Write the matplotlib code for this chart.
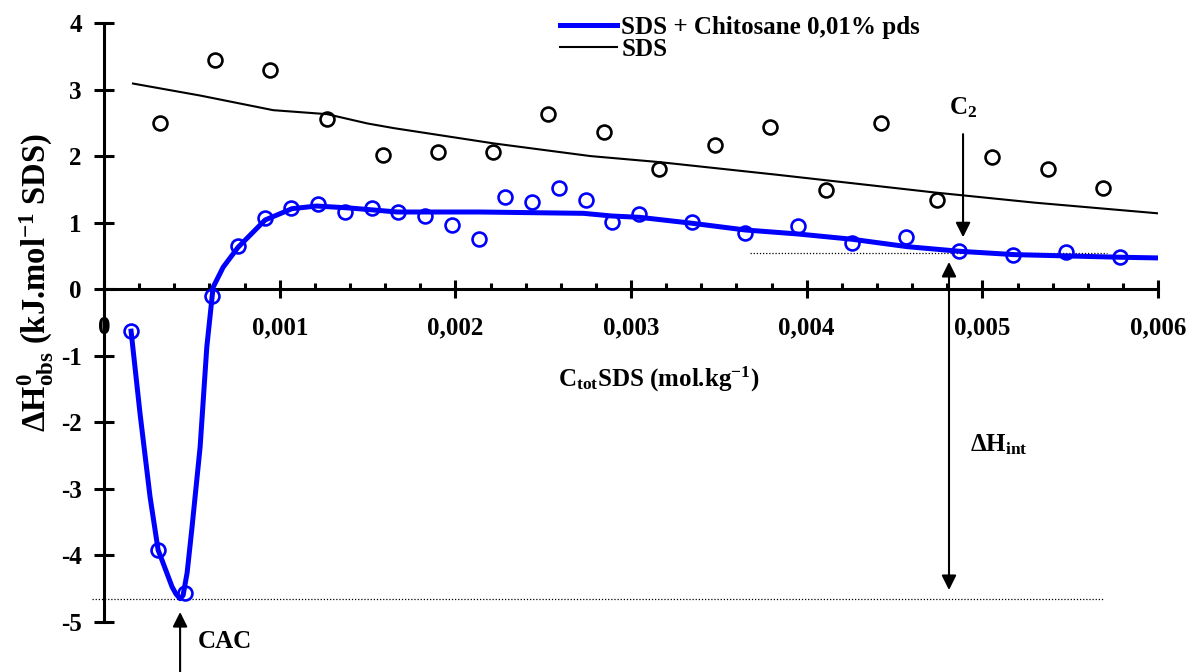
import matplotlib
matplotlib.use("Agg")
import matplotlib.pyplot as plt
from matplotlib.ticker import MultipleLocator, FixedLocator

plt.rcParams['font.family'] = ['Liberation Serif', 'DejaVu Serif']
plt.rcParams['font.weight'] = 'bold'
plt.rcParams['mathtext.fontset'] = 'custom'
plt.rcParams['mathtext.rm'] = 'Liberation Serif:bold'
plt.rcParams['mathtext.it'] = 'Liberation Serif:bold'
plt.rcParams['mathtext.bf'] = 'Liberation Serif:bold'
plt.rcParams['axes.unicode_minus'] = False

# SDS + Chitosane 0,01% pds : measured points
chi_x = [0.000154, 0.000308, 0.000461, 0.000615, 0.000763, 0.000917, 0.001065,
         0.001219, 0.001372, 0.001526, 0.001674, 0.001828, 0.001982, 0.002135,
         0.002284, 0.002437, 0.002591, 0.002745, 0.002893, 0.003047, 0.003349,
         0.00365, 0.003952, 0.00426, 0.004567, 0.004869, 0.005176, 0.005478,
         0.005786]
chi_y = [-0.63, -3.92, -4.56, -0.10, 0.65, 1.07, 1.22, 1.28, 1.16, 1.22, 1.16,
         1.10, 0.96, 0.75, 1.38, 1.31, 1.52, 1.34, 1.01, 1.13, 1.01, 0.84, 0.95,
         0.69, 0.78, 0.57, 0.51, 0.56, 0.48]

# SDS + Chitosane : fitted curve
chi_fit_x = [0.000154, 0.000205, 0.000262, 0.000308, 0.00033, 0.000387, 0.00041,
             0.000433, 0.00045, 0.000473, 0.0005, 0.000547, 0.000585, 0.000621,
             0.000678, 0.000763, 0.000917, 0.00107, 0.00121, 0.0014, 0.00167,
             0.00214, 0.00273, 0.00289, 0.00305, 0.00335, 0.00365, 0.00395,
             0.00426, 0.00457, 0.00487, 0.00518, 0.00548, 0.00579, 0.0060]
chi_fit_y = [-0.63, -1.87, -3.12, -3.92, -4.07, -4.47, -4.58, -4.65, -4.6, -4.26,
             -3.6, -2.37, -0.87, 0.03, 0.33, 0.63, 1.04, 1.21, 1.25, 1.22, 1.16,
             1.16, 1.14, 1.10, 1.08, 0.99, 0.89, 0.83, 0.75, 0.64, 0.57, 0.52,
             0.50, 0.48, 0.47]

# SDS alone : measured points
sds_x = [0.000319, 0.000632, 0.000945, 0.00127, 0.001589, 0.001902, 0.002215,
         0.002528, 0.002847, 0.00316, 0.00348, 0.003793, 0.004112, 0.004425,
         0.004744, 0.005057, 0.005376, 0.005689]
sds_y = [2.49, 3.44, 3.29, 2.55, 2.01, 2.06, 2.06, 2.64, 2.36, 1.80, 2.16, 2.43,
         1.49, 2.49, 1.34, 1.98, 1.80, 1.52]

# SDS alone : fitted curve
sds_fit_x = [0.000165, 0.000547, 0.000963, 0.00127, 0.0015, 0.00165, 0.00222,
             0.00277, 0.00316, 0.00383, 0.00474, 0.0053, 0.0060]
sds_fit_y = [3.09, 2.91, 2.69, 2.63, 2.49, 2.42, 2.19, 2.00, 1.91, 1.72, 1.45,
             1.30, 1.14]

x_ticks = [0, 0.001, 0.002, 0.003, 0.004, 0.005, 0.006]
x_labels = ['0', '0,001', '0,002', '0,003', '0,004', '0,005', '0,006']
y_ticks = [-5, -4, -3, -2, -1, 0, 1, 2, 3, 4]

cac_x, cac_y = 0.000433, -4.65
c2_x, c2_y = 0.00489, 0.55
hint_x = 0.00481

fig = plt.figure(figsize=(11.93, 6.72), dpi=100)
ax = fig.add_axes([0.0872, 0.0744, 0.8835, 0.8914])

ax.plot(chi_fit_x, chi_fit_y, color='#0000ff', lw=3.6, zorder=3,
        label='SDS + Chitosane 0,01% pds')
ax.plot(sds_fit_x, sds_fit_y, color='black', lw=1.5, zorder=3, label='SDS')
ax.plot(chi_x, chi_y, 'o', ms=10, mfc='none', mec='#0000ff', mew=1.9, zorder=4)
ax.plot(sds_x, sds_y, 'o', ms=10, mfc='none', mec='black', mew=1.9, zorder=4)

# guide lines
ax.plot([-0.00007, 0.00569], [cac_y, cac_y], ls=(0, (1, 1.5)), color='black',
        lw=0.9, clip_on=False)
ax.plot([0.00368, 0.00571], [c2_y, c2_y], ls=(0, (1, 1.5)), color='black', lw=0.9)

# arrows
ax.annotate('', xy=(cac_x, -4.85), xytext=(cac_x, -5.8), annotation_clip=False,
            arrowprops=dict(arrowstyle='-|>', color='black', lw=1.5, mutation_scale=22,
                            shrinkA=0, shrinkB=0))
ax.text(0.000535, -5.29, 'CAC', fontsize=18, fontweight='bold', ha='left', va='center')

ax.annotate('', xy=(c2_x, 0.78), xytext=(c2_x, 2.33),
            arrowprops=dict(arrowstyle='-|>', color='black', lw=1.5, mutation_scale=22,
                            shrinkA=0, shrinkB=0))
ax.text(c2_x, 2.73, 'C$_2$', fontsize=18, ha='center', va='center')

ax.annotate('', xy=(hint_x, 0.41), xytext=(hint_x, -4.52),
            arrowprops=dict(arrowstyle='<|-|>', color='black', lw=1.5, mutation_scale=22,
                            shrinkA=0, shrinkB=0))
ax.text(0.00493, -2.34, 'ΔH$_{int}$', fontsize=18, ha='left', va='center')

ax.set_xlim(0, 0.006)
ax.set_ylim(-5, 4)

for s in ['top', 'right']:
    ax.spines[s].set_visible(False)
ax.spines['bottom'].set_position(('data', 0))
ax.spines['left'].set_linewidth(2.2)
ax.spines['bottom'].set_linewidth(2.2)

ax.xaxis.set_major_locator(FixedLocator(x_ticks))
ax.set_xticklabels(x_labels)
ax.xaxis.set_minor_locator(MultipleLocator(0.0002))
ax.set_yticks(y_ticks)
ax.set_yticklabels([str(v) for v in y_ticks])

ax.tick_params(axis='x', which='major', direction='inout', length=13, width=2.2,
               labelsize=18, pad=13)
ax.tick_params(axis='x', which='minor', direction='in', length=4.5, width=2.2)
ax.tick_params(axis='y', which='major', direction='inout', length=14, width=2.2,
               labelsize=18, pad=9)
for lab in ax.get_xticklabels() + ax.get_yticklabels():
    lab.set_fontweight('bold')

ax.set_xlabel('C$_{tot}$SDS (mol.kg$^{-1}$)', fontsize=18, fontweight='bold')
ax.xaxis.set_label_coords(0.526, 0.43)
ax.set_ylabel('ΔH$^0_{obs}$ (kJ.mol$^{-1}$ SDS)', fontsize=23.5, fontweight='bold')
ax.yaxis.set_label_coords(-0.046, 0.566)

leg = ax.legend(loc='upper left', bbox_to_anchor=(0.4326, 1.012), frameon=False,
                fontsize=18, handlelength=2.3, handletextpad=0.15, labelspacing=-0.05,
                borderaxespad=0, borderpad=0)
for t in leg.get_texts():
    t.set_fontweight('bold')

fig.savefig('out.png', dpi=100)
